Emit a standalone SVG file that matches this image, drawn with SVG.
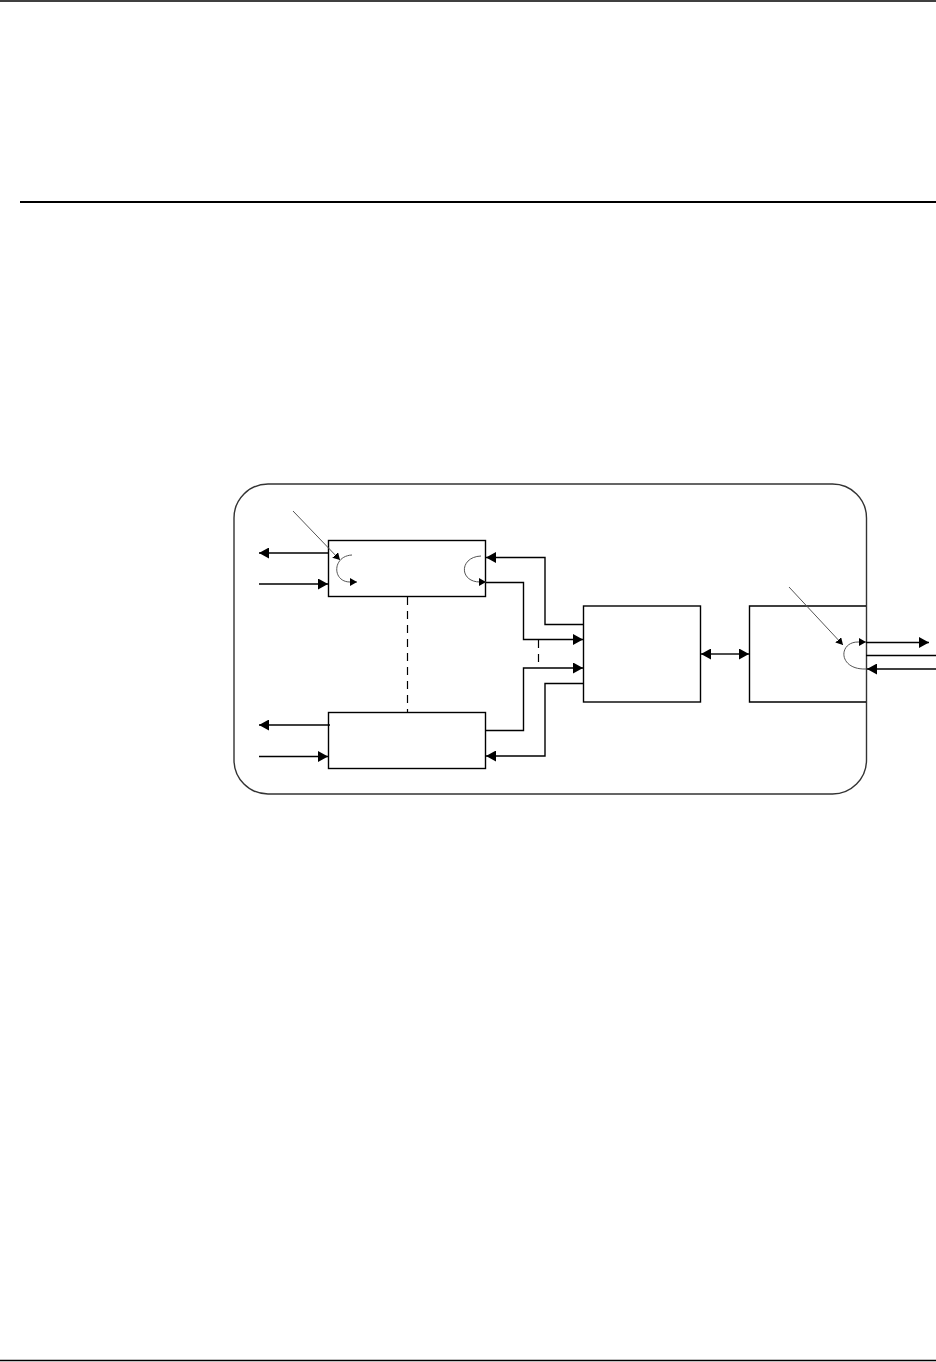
<svg xmlns="http://www.w3.org/2000/svg" width="936" height="1362" viewBox="0 0 936 1362">
<style>
.ln{fill:none;stroke:#000;stroke-width:1.4}
.box{fill:none;stroke:#000;stroke-width:1.4}
.thin{fill:none;stroke:#555;stroke-width:1}
.dash{fill:none;stroke:#000;stroke-width:1.2;stroke-dasharray:8,6}
</style>
<defs>
<marker id="ah" markerUnits="userSpaceOnUse" markerWidth="11" markerHeight="11" refX="10" refY="5.5" orient="auto">
<path d="M0,0 L10,5.5 L0,11 z" fill="#000"/>
</marker>
<marker id="ahs" markerUnits="userSpaceOnUse" markerWidth="8" markerHeight="8" refX="7" refY="4" orient="auto">
<path d="M0,0 L7,4 L0,8 z" fill="#000"/>
</marker>
</defs>
<rect width="936" height="1362" fill="#fff"/>
<g id="page-rules">
<line x1="0" y1="1" x2="936" y2="1" stroke="#000" stroke-width="1.5"/>
<line x1="20" y1="202" x2="936" y2="202" stroke="#000" stroke-width="2.2"/>
<line x1="0" y1="1360.5" x2="936" y2="1360.5" stroke="#000" stroke-width="1.5"/>
</g>
<g id="container">
<rect x="234" y="484" width="632.5" height="310" rx="34" ry="34" fill="none" stroke="#333" stroke-width="1.4"/>
</g>
<g id="boxA">
<rect class="box" x="328.5" y="540.5" width="157" height="56"/>
<path class="thin" d="M352,555 C332,556 332,582 350,582 L357,582" marker-end="url(#ahs)"/>
<path class="thin" d="M481,556 C459,557 459,582 480,582 L486,582" marker-end="url(#ahs)"/>
</g>
<g id="boxC">
<rect class="box" x="328.5" y="712.5" width="157" height="56"/>
</g>
<g id="boxB">
<rect class="box" x="583.5" y="606" width="117" height="96"/>
</g>
<g id="boxD">
<path class="box" d="M866,606 L749.5,606 L749.5,702 L866,702"/>
<path class="thin" d="M866,669 C838,670 838,642 858,642 L866,642" marker-end="url(#ahs)"/>
</g>
<g id="connectors">
<line class="ln" x1="328" y1="553" x2="259" y2="553" marker-end="url(#ah)"/>
<line class="ln" x1="259" y1="584" x2="328" y2="584" marker-end="url(#ah)"/>
<line class="ln" x1="330" y1="725" x2="259" y2="725" marker-end="url(#ah)"/>
<line class="ln" x1="259" y1="756.5" x2="328" y2="756.5" marker-end="url(#ah)"/>
<line class="thin" x1="293" y1="511" x2="340" y2="560" marker-end="url(#ahs)"/>
<line class="thin" x1="789" y1="587" x2="843" y2="645" marker-end="url(#ahs)"/>
<path class="ln" d="M583,624.5 L545,624.5 L545,557.5 L486,557.5" marker-end="url(#ah)"/>
<path class="ln" d="M486,582.5 L523.5,582.5 L523.5,639.5 L583,639.5" marker-end="url(#ah)"/>
<path class="ln" d="M486,730.5 L523.5,730.5 L523.5,668 L583,668" marker-end="url(#ah)"/>
<path class="ln" d="M583,683.5 L545,683.5 L545,756 L486,756" marker-end="url(#ah)"/>
<line class="dash" x1="538.5" y1="640" x2="538.5" y2="668"/>
<line class="dash" x1="407.5" y1="597" x2="407.5" y2="712"/>
<line class="ln" x1="725" y1="654" x2="701" y2="654" marker-end="url(#ah)"/>
<line class="ln" x1="725" y1="654" x2="749" y2="654" marker-end="url(#ah)"/>
<line class="ln" x1="866" y1="642.5" x2="929" y2="642.5" marker-end="url(#ah)"/>
<line class="ln" x1="866" y1="655.5" x2="936" y2="655.5"/>
<line class="ln" x1="936" y1="669" x2="867" y2="669" marker-end="url(#ah)"/>
</g>
</svg>
